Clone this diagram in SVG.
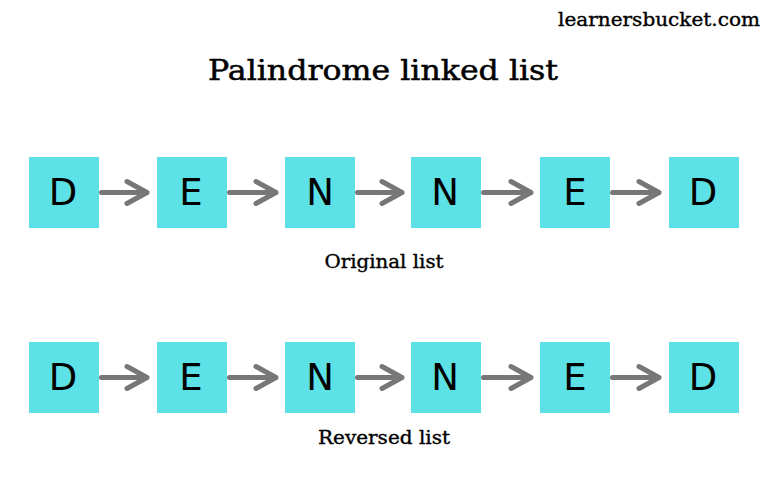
<svg xmlns="http://www.w3.org/2000/svg" width="768" height="500" viewBox="0 0 768 500">
<style>
.node rect{fill:#5ce1e6}
.node text{font-family:"DejaVu Sans",Verdana,sans-serif;font-size:37px;fill:#000;text-anchor:middle}
.conn path{fill:none;stroke:#777777;stroke-width:5;stroke-linecap:round;stroke-linejoin:round}
.lbl{font-family:"DejaVu Serif","Liberation Serif",serif;fill:#000;stroke:#000;stroke-width:0.35;text-anchor:middle}
</style>
<rect width="768" height="500" fill="#ffffff"/>
<text class="lbl" x="659" y="26" font-size="18" textLength="202" lengthAdjust="spacingAndGlyphs">learnersbucket.com</text>
<text class="lbl" x="383" y="80" font-size="27" textLength="350" lengthAdjust="spacingAndGlyphs" style="stroke-width:0.5">Palindrome linked list</text>
<text class="lbl" x="384" y="268" font-size="18" textLength="119" lengthAdjust="spacingAndGlyphs">Original list</text>
<text class="lbl" x="384" y="444" font-size="18" textLength="132" lengthAdjust="spacingAndGlyphs">Reversed list</text>

<g id="n1" class="node"><rect x="29" y="157" width="70" height="71"/><text x="63" y="205">D</text></g>
<g id="n2" class="node"><rect x="157" y="157" width="70" height="71"/><text x="191" y="205">E</text></g>
<g id="n3" class="node"><rect x="285" y="157" width="70" height="71"/><text x="320" y="205">N</text></g>
<g id="n4" class="node"><rect x="411" y="157" width="70" height="71"/><text x="445" y="205">N</text></g>
<g id="n5" class="node"><rect x="540" y="157" width="70" height="71"/><text x="575" y="205">E</text></g>
<g id="n6" class="node"><rect x="669" y="157" width="70" height="71"/><text x="703" y="205">D</text></g>

<g id="r1" class="node"><rect x="29" y="342" width="70" height="71"/><text x="63" y="390">D</text></g>
<g id="r2" class="node"><rect x="157" y="342" width="70" height="71"/><text x="191" y="390">E</text></g>
<g id="r3" class="node"><rect x="285" y="342" width="70" height="71"/><text x="320" y="390">N</text></g>
<g id="r4" class="node"><rect x="411" y="342" width="70" height="71"/><text x="445" y="390">N</text></g>
<g id="r5" class="node"><rect x="540" y="342" width="70" height="71"/><text x="575" y="390">E</text></g>
<g id="r6" class="node"><rect x="669" y="342" width="70" height="71"/><text x="703" y="390">D</text></g>

<g id="connectors" class="conn">
<path d="M101.5 192.5H147M127 181.5L147 192.5L127 203.5"/>
<path d="M229.5 192.5H276M256 181.5L276 192.5L256 203.5"/>
<path d="M357.5 192.5H402M382 181.5L402 192.5L382 203.5"/>
<path d="M483.5 192.5H531M511 181.5L531 192.5L511 203.5"/>
<path d="M612.5 192.5H659M639 181.5L659 192.5L639 203.5"/>
<path d="M101.5 377.5H147M127 366.5L147 377.5L127 388.5"/>
<path d="M229.5 377.5H276M256 366.5L276 377.5L256 388.5"/>
<path d="M357.5 377.5H402M382 366.5L402 377.5L382 388.5"/>
<path d="M483.5 377.5H531M511 366.5L531 377.5L511 388.5"/>
<path d="M612.5 377.5H659M639 366.5L659 377.5L639 388.5"/>
</g>
</svg>
